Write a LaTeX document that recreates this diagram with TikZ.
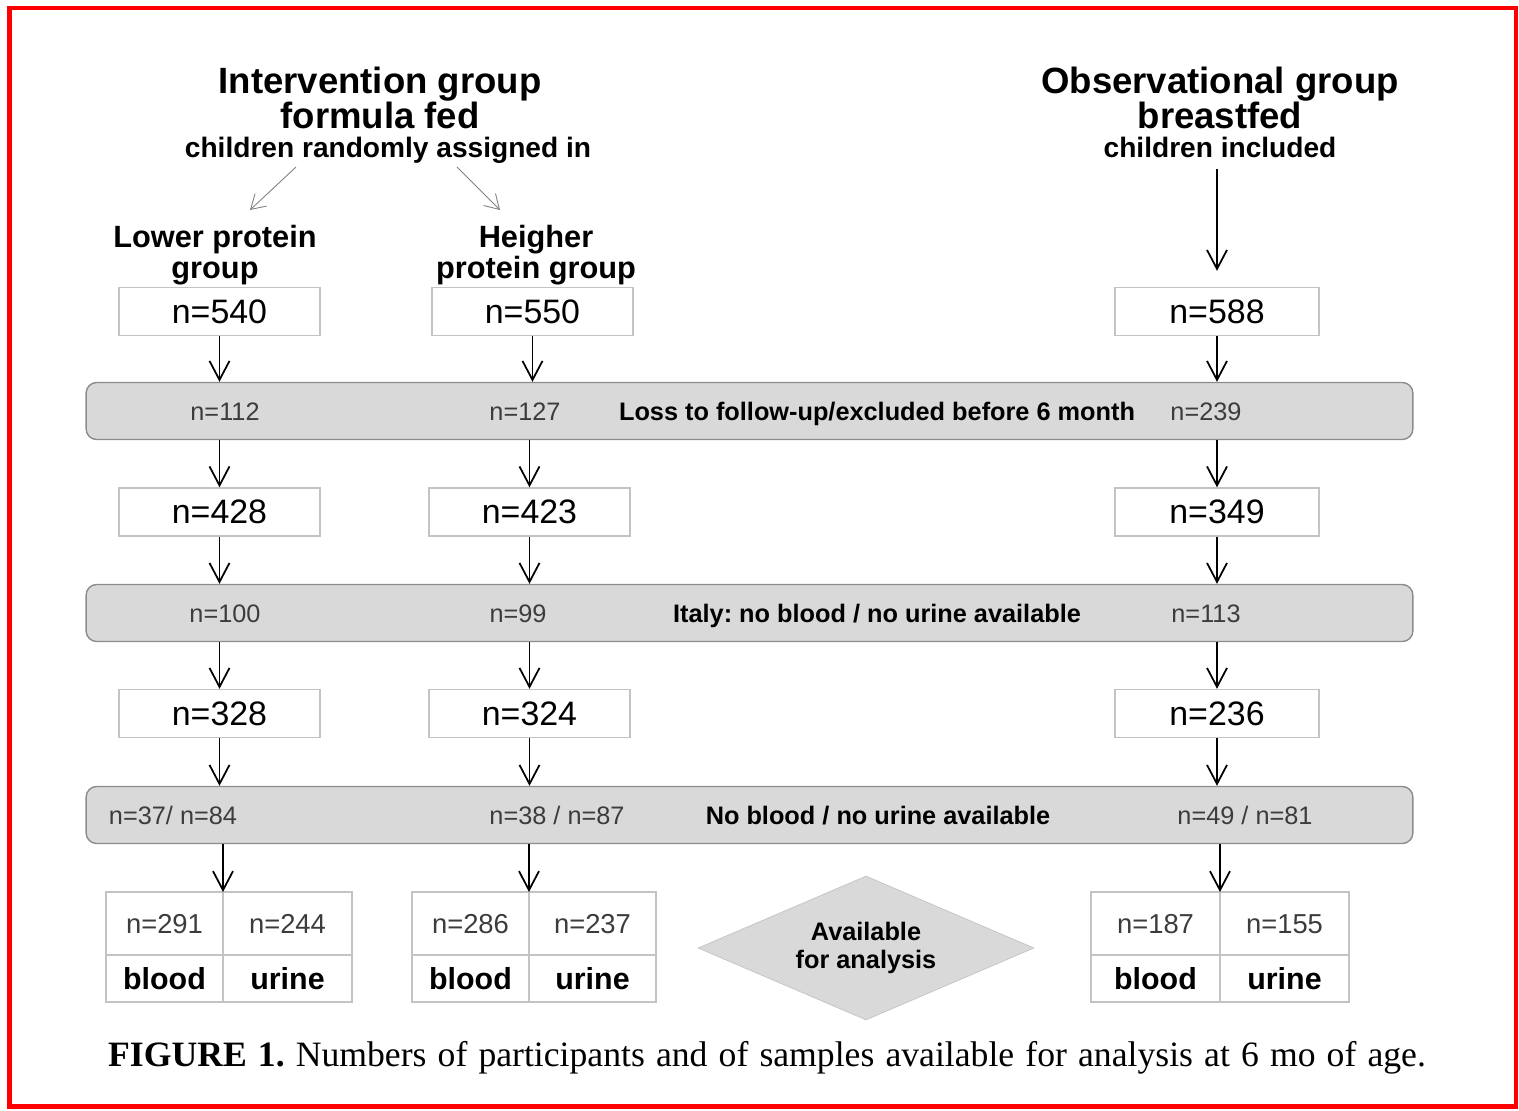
\documentclass[tikz,border=0pt]{standalone}
\usepackage{fontspec}
\setmainfont{Liberation Sans}
\newfontfamily\captionserif{Liberation Serif}
\frenchspacing
\usetikzlibrary{shapes.geometric, arrows.meta, positioning, calc}
\definecolor{barfill}{RGB}{217,217,217}
\definecolor{barline}{RGB}{140,140,140}
\definecolor{boxline}{RGB}{195,195,195}
\definecolor{numgray}{RGB}{60,60,60}
\definecolor{framered}{RGB}{255,0,0}

\tikzset{
  countbox/.style={draw=boxline, fill=white, line width=0.8pt, minimum width=4.02cm,
    minimum height=0.96cm, inner sep=0pt, font=\fontsize{19.3}{22}\selectfont},
  lossbar/.style={draw=barline, fill=barfill, rounded corners=6pt, line width=0.8pt,
    minimum width=26.54cm, minimum height=1.14cm},
  barnum/.style={text=numgray, text height=10.3pt, text depth=0pt, font=\fontsize{14.4}{17}\selectfont},
  barlabel/.style={text height=10.3pt, text depth=0pt, font=\bfseries\fontsize{14.4}{17}\selectfont},
  flow/.style={-{Straight Barb[length=0.38cm,width=0.4cm]}, line width=1pt},
  split/.style={-{Straight Barb[length=0.28cm,width=0.34cm]}, line width=0.5pt, gray},
  cell/.style={draw=boxline, line width=0.8pt, inner sep=0pt, outer sep=0pt},
  topcell/.style={cell, minimum height=1.26cm, text=numgray, text height=11.2pt, text depth=0pt,
    font=\fontsize{15.6}{18}\selectfont},
  botcell/.style={cell, minimum height=0.94cm, text height=12.4pt, text depth=0pt,
    font=\bfseries\fontsize{17.3}{20}\selectfont},
  headline/.style={anchor=base, font=\bfseries\fontsize{20.8}{22}\selectfont},
  subline/.style={anchor=base, font=\bfseries\fontsize{16}{18}\selectfont},
  armlabel/.style={align=center, font=\bfseries\fontsize{17.5}{17.6}\selectfont},
}

\begin{document}
\begin{tikzpicture}[x=0.02cm, y=-0.02cm]
  \useasboundingbox (0,0) rectangle (1519,1110);
  \draw[framered, line width=0.09cm] (9.5,8) rectangle (1516,1106.5);

  % group headings
  \node[headline] (inttitle) at (380,93) {Intervention group};
  \node[headline] (intfed) at (380,128) {formula fed};
  \node[subline] (intsub) at (388,157) {children randomly assigned in};
  \node[headline] (obstitle) at (1220,93) {Observational group};
  \node[headline] (obsfed) at (1220,128) {breastfed};
  \node[subline] (obssub) at (1220,157) {children included};

  \node[armlabel] (lowarm) at (215,255) {Lower protein\\group};
  \node[armlabel] (higharm) at (536,255) {Heigher\\protein group};

  \coordinate (splitL) at (296,167);
  \coordinate (splitR) at (457,167);
  \coordinate (toLow) at (250,210);
  \coordinate (toHigh) at (500,210);
  \draw[split] (splitL) -- (toLow);
  \draw[split] (splitR) -- (toHigh);

  % counts
  \node[countbox] (n540) at (219.5,311.5) {n=540};
  \node[countbox] (n550) at (532.5,311.5) {n=550};
  \node[countbox, minimum width=4.08cm] (n588) at (1217,311.5) {n=588};
  \draw[flow, shorten >=0.32cm, shorten <=0.12cm] (obssub.south -| n588) -- (n588);

  \node[lossbar] (bar1) at (749.5,411) {};
  \node[barnum] (l112) at (225,411) {n=112};
  \node[barnum] (l127) at (525,411) {n=127};
  \node[barlabel] (lossA) at (877,411) {Loss to follow-up/excluded before 6 month};
  \node[barnum] (l239) at (1206,411) {n=239};

  \node[countbox] (n428) at (219.5,512) {n=428};
  \node[countbox] (n423) at (529.5,512) {n=423};
  \node[countbox, minimum width=4.08cm] (n349) at (1217,512) {n=349};

  \node[lossbar] (bar2) at (749.5,613) {};
  \node[barnum] (l100) at (225,613) {n=100};
  \node[barnum] (l99) at (518,613) {n=99};
  \node[barlabel] (lossB) at (877,613) {Italy: no blood / no urine available};
  \node[barnum] (l113) at (1206,613) {n=113};

  \node[countbox] (n328) at (219.5,713.5) {n=328};
  \node[countbox] (n324) at (529.5,713.5) {n=324};
  \node[countbox, minimum width=4.08cm] (n236) at (1217,713.5) {n=236};

  \node[lossbar] (bar3) at (749.5,815) {};
  \node[barnum] (l3784) at (173,815) {n=37/ n=84};
  \node[barnum] (l3887) at (557,815) {n=38 / n=87};
  \node[barlabel] (lossC) at (878,815) {No blood / no urine available};
  \node[barnum] (l4981) at (1245,815) {n=49 / n=81};

  % samples
  \node[topcell, minimum width=2.34cm] (tL1) at (164.5,923.5) {n=291};
  \node[topcell, minimum width=2.58cm] (tL2) at (287.5,923.5) {n=244};
  \node[botcell, minimum width=2.34cm] (tL3) at (164.5,978.5) {blood};
  \node[botcell, minimum width=2.58cm] (tL4) at (287.5,978.5) {urine};
  \node[topcell, minimum width=2.34cm] (tM1) at (470.5,923.5) {n=286};
  \node[topcell, minimum width=2.54cm] (tM2) at (592.5,923.5) {n=237};
  \node[botcell, minimum width=2.34cm] (tM3) at (470.5,978.5) {blood};
  \node[botcell, minimum width=2.54cm] (tM4) at (592.5,978.5) {urine};
  \node[topcell, minimum width=2.58cm] (tR1) at (1155.5,923.5) {n=187};
  \node[topcell, minimum width=2.58cm] (tR2) at (1284.5,923.5) {n=155};
  \node[botcell, minimum width=2.58cm] (tR3) at (1155.5,978.5) {blood};
  \node[botcell, minimum width=2.58cm] (tR4) at (1284.5,978.5) {urine};

  \node[diamond, aspect=2.33, fill=barfill, draw=boxline, inner sep=0pt,
        minimum width=6.72cm, minimum height=2.88cm, align=center,
        font=\bfseries\fontsize{14.4}{15.5}\selectfont] (avail) at (866,948) {Available\\for analysis};

  % arrows
  \foreach \a/\b in {n540/bar1, n550/bar1, n588/bar1, n428/bar2, n423/bar2, n349/bar2,
                     n328/bar3, n324/bar3, n236/bar3}
    \draw[flow] (\a) -- (\a |- \b.north);
  \foreach \a/\b in {bar1/n428, bar1/n423, bar1/n349, bar2/n328, bar2/n324, bar2/n236}
    \draw[flow] (\a.south -| \b) -- (\b);
  \foreach \t in {tL1, tM1, tR1}
    \draw[flow] (bar3.south -| \t.north east) -- (\t.north east);

  \node[font=\captionserif\fontsize{20.3}{22}\selectfont] (caption) at (767,1058)
    {\makebox[26.36cm][s]{\textbf{FIGURE 1.} Numbers of participants and of samples available for analysis at 6 mo of age.}};
\end{tikzpicture}
\end{document}
